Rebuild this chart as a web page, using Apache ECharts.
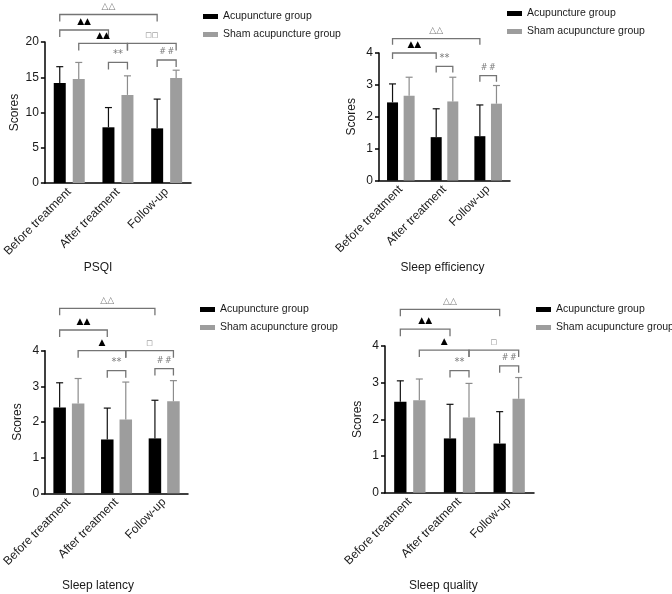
<!DOCTYPE html>
<html>
<head>
<meta charset="utf-8">
<script src="https://cdn.jsdelivr.net/npm/echarts@6/dist/echarts.min.js"></script>
<style>html,body{margin:0;padding:0;background:#fff}#main{width:672px;height:594px}</style>
</head>
<body>
<div id="main"></div>
<script>
// ---------- data ----------
const categories = ['Before treatment', 'After treatment', 'Follow-up'];
const seriesNames = ['Acupuncture group', 'Sham acupuncture group'];

const psqiAcu = [14.2, 7.9, 7.75];
const psqiAcuSD = [2.3, 2.8, 4.15];
const psqiSham = [14.75, 12.5, 14.9];
const psqiShamSD = [2.35, 2.7, 1.1];
const psqiTicks = [0, 5, 10, 15, 20];

const effAcu = [2.45, 1.36, 1.39];
const effAcuSD = [0.58, 0.89, 0.98];
const effSham = [2.66, 2.48, 2.41];
const effShamSD = [0.58, 0.76, 0.57];
const effTicks = [0, 1, 2, 3, 4];

const latAcu = [2.41, 1.51, 1.54];
const latAcuSD = [0.69, 0.88, 1.07];
const latSham = [2.52, 2.07, 2.58];
const latShamSD = [0.70, 1.05, 0.58];
const latTicks = [0, 1, 2, 3, 4];

const qualAcu = [2.48, 1.48, 1.34];
const qualAcuSD = [0.57, 0.93, 0.87];
const qualSham = [2.52, 2.05, 2.56];
const qualShamSD = [0.58, 0.93, 0.58];
const qualTicks = [0, 1, 2, 3, 4];

// brackets: [fromCategory, fromGroup(0 acu / 1 sham), toCategory, toGroup, level, label]
const psqiBrackets = [
  [0, 0, 2, 0, 23.9, '△△'],
  [0, 0, 1, 0, 21.7, '▲▲'],
  [0, 1, 1, 1, 19.8, '▲▲'],
  [1, 1, 2, 1, 19.8, '□□'],
  [1, 0, 1, 1, 17.1, '**'],
  [2, 0, 2, 1, 17.45, '#\u2009#']
];
const effBrackets = [
  [0, 0, 2, 0, 4.45, '△△'],
  [0, 0, 1, 0, 4.0, '▲▲'],
  [1, 0, 1, 1, 3.58, '**'],
  [2, 0, 2, 1, 3.29, '#\u2009#']
];
const latBrackets = [
  [0, 0, 2, 0, 5.19, '△△'],
  [0, 0, 1, 0, 4.58, '▲▲'],
  [0, 1, 1, 1, 4.0, '▲'],
  [1, 1, 2, 1, 4.0, '□'],
  [1, 0, 1, 1, 3.44, '**'],
  [2, 0, 2, 1, 3.5, '#\u2009#']
];
const qualBrackets = [
  [0, 0, 2, 0, 5.0, '△△'],
  [0, 0, 1, 0, 4.46, '▲▲'],
  [0, 1, 1, 1, 3.89, '▲'],
  [1, 1, 2, 1, 3.89, '□'],
  [1, 0, 1, 1, 3.33, '**'],
  [2, 0, 2, 1, 3.46, '#\u2009#']
];

const panelTitles = ['PSQI', 'Sleep efficiency', 'Sleep latency', 'Sleep quality'];

// ---------- layout / style ----------
const FONT = '"Liberation Sans", Arial, Helvetica, sans-serif';
const BLACK = '#000000';
const GRAY = '#9d9d9d';
const BRACKET = '#747474';

const panels = [
  { acu: psqiAcu, acuSD: psqiAcuSD, sham: psqiSham, shamSD: psqiShamSD, ticks: psqiTicks, brackets: psqiBrackets,
    grid: { left: 43, top: 42, width: 148, height: 141 }, barW: 12, gap: 7, leg: 7, nameGap: 24,
    legend: { left: 203, top: 11 }, title: [98, 268] },
  { acu: effAcu, acuSD: effAcuSD, sham: effSham, shamSD: effShamSD, ticks: effTicks, brackets: effBrackets,
    grid: { left: 379, top: 53, width: 131, height: 127.5 }, barW: 11, gap: 5.6, leg: 6, nameGap: 21,
    legend: { left: 507, top: 8 }, title: [442.5, 268] },
  { acu: latAcu, acuSD: latAcuSD, sham: latSham, shamSD: latShamSD, ticks: latTicks, brackets: latBrackets,
    grid: { left: 41, top: 350.7, width: 147, height: 142.6 }, barW: 12.5, gap: 6, leg: 7, nameGap: 21,
    legend: { left: 200, top: 304 }, title: [98, 586] },
  { acu: qualAcu, acuSD: qualAcuSD, sham: qualSham, shamSD: qualShamSD, ticks: qualTicks, brackets: qualBrackets,
    grid: { left: 385, top: 346, width: 149, height: 146.7 }, barW: 12.3, gap: 6.7, leg: 7, nameGap: 21,
    legend: { left: 536, top: 304 }, title: [443.3, 586] }
];

function errRender(off, color) {
  return function (params, api) {
    const c = api.value(0);
    const a = api.coord([c, api.value(1)]);
    const b = api.coord([c, api.value(2)]);
    const x = a[0] + off;
    return {
      type: 'group',
      children: [
        { type: 'line', shape: { x1: x, y1: a[1], x2: x, y2: b[1] }, style: { stroke: color, lineWidth: 1.2 } },
        { type: 'line', shape: { x1: x - 3.5, y1: b[1], x2: x + 3.5, y2: b[1] }, style: { stroke: color, lineWidth: 1.2 } }
      ]
    };
  };
}

function bracketRender(p) {
  const off = (p.barW + p.gap) / 2;
  return function (params, api) {
    const br = p.brackets[params.dataIndex];
    const y = api.coord([br[0], br[4]])[1];
    const x1 = api.coord([br[0], 0])[0] + (br[1] ? off : -off);
    const x2 = api.coord([br[2], 0])[0] + (br[3] ? off : -off);
    const lab = br[5];
    const isFilled = lab.indexOf('▲') >= 0;
    const isSym = /[△▲□]/.test(lab);
    const size = lab.indexOf('□') >= 0 ? 7 : (isSym ? 9 : (lab === '**' ? 10 : 8));
    return {
      type: 'group',
      children: [
        { type: 'polyline',
          shape: { points: [[x1, y + p.leg], [x1, y], [x2, y], [x2, y + p.leg]] },
          style: { stroke: BRACKET, fill: null, lineWidth: 1.3 } },
        { type: 'text',
          style: {
            x: (x1 + x2) / 2, y: y - 8,
            text: lab,
            fill: isFilled ? '#000' : '#7a7a7a',
            font: size + 'px "DejaVu Sans", sans-serif',
            align: 'center', verticalAlign: 'middle',
            textAlign: 'center', textVerticalAlign: 'middle'
          } }
      ]
    };
  };
}

const grids = [], xAxes = [], yAxes = [], series = [], legends = [], graphics = [];

panels.forEach(function (p, i) {
  grids.push(p.grid);
  xAxes.push({
    type: 'category', gridIndex: i, data: categories,
    axisLine: { lineStyle: { color: '#000', width: 1.5 } },
    axisTick: { alignWithLabel: true, length: 4, lineStyle: { color: '#000', width: 1.5 } },
    axisLabel: { rotate: 45, fontSize: 12, color: '#1a1a1a', fontFamily: FONT, margin: 7, interval: 0 }
  });
  const t = p.ticks;
  yAxes.push({
    type: 'value', gridIndex: i, min: t[0], max: t[t.length - 1], interval: t[1] - t[0],
    name: 'Scores', nameLocation: 'middle', nameRotate: 90, nameGap: p.nameGap,
    nameTextStyle: { fontSize: 12, color: '#1a1a1a', fontFamily: FONT },
    axisLine: { show: true, lineStyle: { color: '#000', width: 1.5 } },
    axisTick: { show: true, length: 4, lineStyle: { color: '#000', width: 1.5 } },
    axisLabel: { fontSize: 12, color: '#1a1a1a', fontFamily: FONT, margin: 6 },
    splitLine: { show: false }
  });
  const off = (p.barW + p.gap) / 2;
  const gapPct = (p.gap / p.barW * 100).toFixed(1) + '%';
  series.push({
    name: seriesNames[0], type: 'bar', xAxisIndex: i, yAxisIndex: i, data: p.acu,
    barWidth: p.barW, barGap: gapPct, itemStyle: { color: BLACK }, z: 2
  });
  series.push({
    name: seriesNames[1], type: 'bar', xAxisIndex: i, yAxisIndex: i, data: p.sham,
    barWidth: p.barW, barGap: gapPct, itemStyle: { color: GRAY }, z: 2
  });
  series.push({
    type: 'custom', xAxisIndex: i, yAxisIndex: i, z: 3, clip: false, silent: true,
    renderItem: errRender(-off, '#111'),
    encode: { x: 0, y: [1, 2] },
    data: p.acu.map(function (m, k) { return [k, m, m + p.acuSD[k]]; })
  });
  series.push({
    type: 'custom', xAxisIndex: i, yAxisIndex: i, z: 3, clip: false, silent: true,
    renderItem: errRender(off, '#8c8c8c'),
    encode: { x: 0, y: [1, 2] },
    data: p.sham.map(function (m, k) { return [k, m, m + p.shamSD[k]]; })
  });
  series.push({
    type: 'custom', xAxisIndex: i, yAxisIndex: i, z: 4, clip: false, silent: true,
    renderItem: bracketRender(p),
    encode: { x: 0, y: 1 },
    data: p.brackets.map(function (b) { return [b[0], b[4]]; })
  });
  legends.push({
    left: p.legend.left, top: p.legend.top, orient: 'vertical', padding: 0,
    data: seriesNames, icon: 'rect', itemWidth: 15, itemHeight: 5, itemGap: 7,
    selectedMode: false,
    textStyle: { fontSize: 10.5, color: '#1a1a1a', fontFamily: FONT }
  });
  graphics.push({
    type: 'text', x: p.title[0], y: p.title[1],
    style: { text: panelTitles[i], font: '12px ' + FONT, fill: '#1a1a1a',
             align: 'center', verticalAlign: 'middle', textAlign: 'center', textVerticalAlign: 'middle' }
  });
});

const chart = echarts.init(document.getElementById('main'), null, { renderer: 'canvas' });
chart.setOption({
  animation: false,
  backgroundColor: '#fff',
  grid: grids, xAxis: xAxes, yAxis: yAxes,
  legend: legends, series: series, graphic: graphics
});
</script>
</body>
</html>
